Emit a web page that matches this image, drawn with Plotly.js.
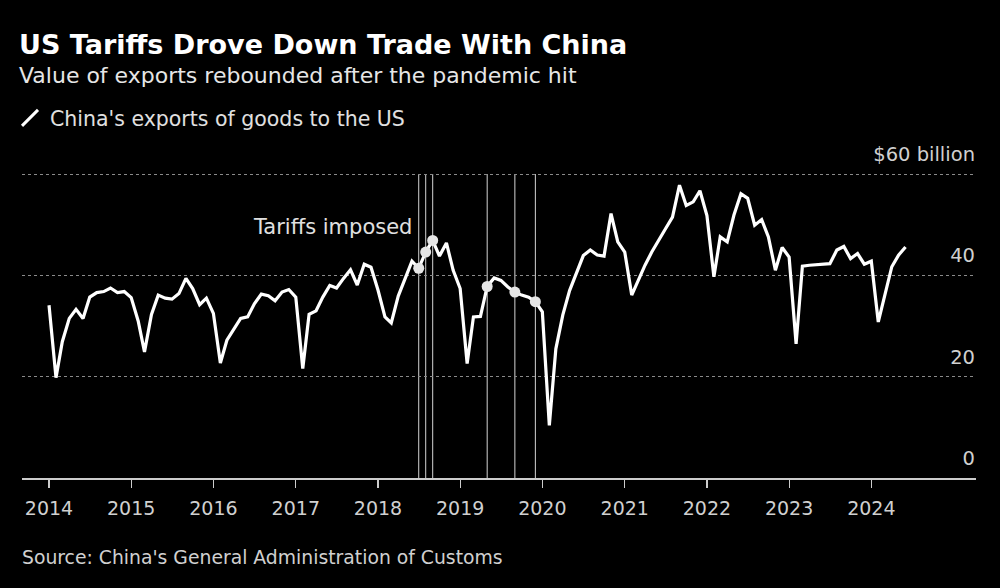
<!DOCTYPE html>
<html>
<head>
<meta charset="utf-8">
<script src="https://cdn.plot.ly/plotly-3.0.1.min.js"></script>
<style>
  html, body { margin: 0; padding: 0; background: #000; }
  #chart { width: 1000px; height: 588px; }
</style>
</head>
<body>
<div id="chart"></div>
<script>
// China's exports of goods to the US, $ billion, monthly (Jan 2014 – Jun 2024)
const v2014 = [34.1, 19.8, 26.9, 31.5, 33.3, 31.5, 35.7, 36.6, 36.8, 37.5, 36.6, 36.8];
const v2015 = [35.6, 31.0, 24.9, 32.3, 36.1, 35.5, 35.3, 36.4, 39.4, 37.4, 34.2, 35.5];
const v2016 = [32.5, 22.7, 27.2, 29.5, 31.5, 31.8, 34.4, 36.3, 36.0, 35.0, 36.7, 37.2];
const v2017 = [35.7, 21.6, 32.3, 33.0, 35.7, 38.0, 37.5, 39.4, 41.1, 38.1, 42.2, 41.6];
const v2018 = [37.1, 31.8, 30.6, 35.9, 39.3, 42.8, 41.4, 44.6, 46.9, 43.8, 46.4, 41.0];
const v2019 = [37.4, 22.6, 31.8, 31.9, 37.8, 39.5, 39.0, 37.7, 36.7, 36.1, 35.7, 34.8];
const v2020 = [32.8, 10.4, 25.5, 32.2, 37.0, 40.4, 43.9, 45.0, 44.0, 43.8, 52.2, 46.6];
const v2021 = [44.6, 36.1, 39.0, 42.0, 44.6, 46.8, 49.2, 51.5, 57.8, 53.8, 54.5, 56.7];
const v2022 = [51.8, 39.7, 47.6, 46.6, 51.9, 56.1, 55.2, 49.9, 51.0, 47.6, 41.0, 45.5];
const v2023 = [43.6, 26.5, 41.8, 42.0, 42.1, 42.2, 42.3, 45.0, 45.7, 43.3, 44.3, 42.2];
const v2024 = [42.8, 30.8, 36.4, 41.7, 44.0, 45.6];

const years = [2014, 2015, 2016, 2017, 2018, 2019, 2020, 2021, 2022, 2023, 2024];
const yearValues = [v2014, v2015, v2016, v2017, v2018, v2019, v2020, v2021, v2022, v2023, v2024];

// Tariff events (months)
const tariffDates = ['2018-07-01', '2018-08-01', '2018-09-01', '2019-05-01', '2019-09-01', '2019-12-01'];

// Y-axis ticks
const yTickVals = [0, 20, 40, 60];
const yTickText = ['0', '20', '40', '$60 billion'];

const seriesName = "China's exports of goods to the US";
const titleText = 'US Tariffs Drove Down Trade With China';
const subtitleText = 'Value of exports rebounded after the pandemic hit';
const sourceText = "Source: China's General Administration of Customs";
const annotationText = 'Tariffs imposed';

// Build monthly series
const dates = [];
const values = [];
years.forEach((yr, k) => {
  yearValues[k].forEach((v, m) => {
    dates.push(yr + '-' + String(m + 1).padStart(2, '0') + '-01');
    values.push(v);
  });
});
const tariffValues = tariffDates.map(d => values[dates.indexOf(d)]);
const xTickVals = years.map(y => y + '-01-01');
const xTickText = years.map(String);

const FONT = 'DejaVu Sans, Verdana, sans-serif';

const traces = [
  {
    x: dates, y: values, type: 'scatter', mode: 'lines',
    line: { color: '#ffffff', width: 3.2 },
    showlegend: false, hoverinfo: 'x+y'
  },
  {
    x: tariffDates, y: tariffValues, type: 'scatter', mode: 'markers',
    marker: { color: '#e6e6e6', size: 11 },
    showlegend: false
  },
  {
    x: [null], y: [null], type: 'scatter', mode: 'markers',
    name: seriesName,
    marker: { symbol: 'line-ne-open', size: 16, color: '#ffffff', line: { color: '#ffffff', width: 3 } },
    showlegend: true
  }
];

const shapes = tariffDates.map(d => ({
  type: 'line', xref: 'x', yref: 'paper',
  x0: d, x1: d, y0: 0, y1: 60 / 60.4,
  line: { color: '#d4d4d4', width: 1 },
  layer: 'below'
}));

const layout = {
  width: 1000, height: 588,
  paper_bgcolor: '#000000', plot_bgcolor: '#000000',
  margin: { l: 22, r: 24, t: 172, b: 110 },
  font: { family: FONT, color: '#d0d0d0', size: 19 },
  title: {
    text: '<b>' + titleText + '</b>',
    font: { family: FONT, size: 27, color: '#ffffff' },
    xref: 'container', x: 0.019, xanchor: 'left',
    yref: 'container', y: 1 - 45 / 588, yanchor: 'middle'
  },
  showlegend: true,
  legend: {
    orientation: 'h',
    xref: 'container', x: 0.01, xanchor: 'left',
    yref: 'container', y: 1 - 118 / 588, yanchor: 'middle',
    font: { family: FONT, size: 20.5, color: '#e0e0e0' },
    bgcolor: 'rgba(0,0,0,0)',
    itemwidth: 30
  },
  xaxis: {
    type: 'date',
    range: ['2013-09-03', '2025-04-10'],
    tickvals: xTickVals, ticktext: xTickText,
    showgrid: false, zeroline: false,
    showline: true, linecolor: '#cccccc', linewidth: 1.5,
    ticks: 'outside', ticklen: 8, tickcolor: '#cccccc', tickwidth: 1.2,
    tickfont: { family: FONT, size: 19, color: '#d0d0d0' },
    ticklabelstandoff: 5,
    fixedrange: true
  },
  yaxis: {
    side: 'right',
    range: [0, 60.4],
    tickvals: yTickVals, ticktext: yTickText,
    ticklabelposition: 'inside',
    ticklabelshift: -20,
    ticklabelstandoff: -2,
    ticklabeloverflow: 'allow',
    ticks: '',
    showgrid: true, gridcolor: '#8a8a8a', griddash: 'dot', gridwidth: 1,
    zeroline: false, showline: false,
    tickfont: { family: FONT, size: 19.5, color: '#d0d0d0' },
    fixedrange: true
  },
  shapes: shapes,
  annotations: [
    {
      text: subtitleText, xref: 'paper', yref: 'paper',
      x: -0.0057, y: (478 - 75) / 306, xanchor: 'left', yanchor: 'middle',
      showarrow: false,
      font: { family: FONT, size: 22, color: '#e6e6e6' }
    },
    {
      text: annotationText, xref: 'x', yref: 'y',
      x: tariffDates[0], y: 49.5, xanchor: 'right', yanchor: 'middle',
      xshift: -5, showarrow: false,
      font: { family: FONT, size: 21, color: '#e0e0e0' }
    },
    {
      text: sourceText, xref: 'paper', yref: 'paper',
      x: 0, y: -(557 - 478) / 306, xanchor: 'left', yanchor: 'middle',
      xshift: -2, showarrow: false,
      font: { family: FONT, size: 18.8, color: '#d0d0d0' }
    }
  ]
};

Plotly.newPlot('chart', traces, layout, { displayModeBar: false, staticPlot: true });
</script>
</body>
</html>
